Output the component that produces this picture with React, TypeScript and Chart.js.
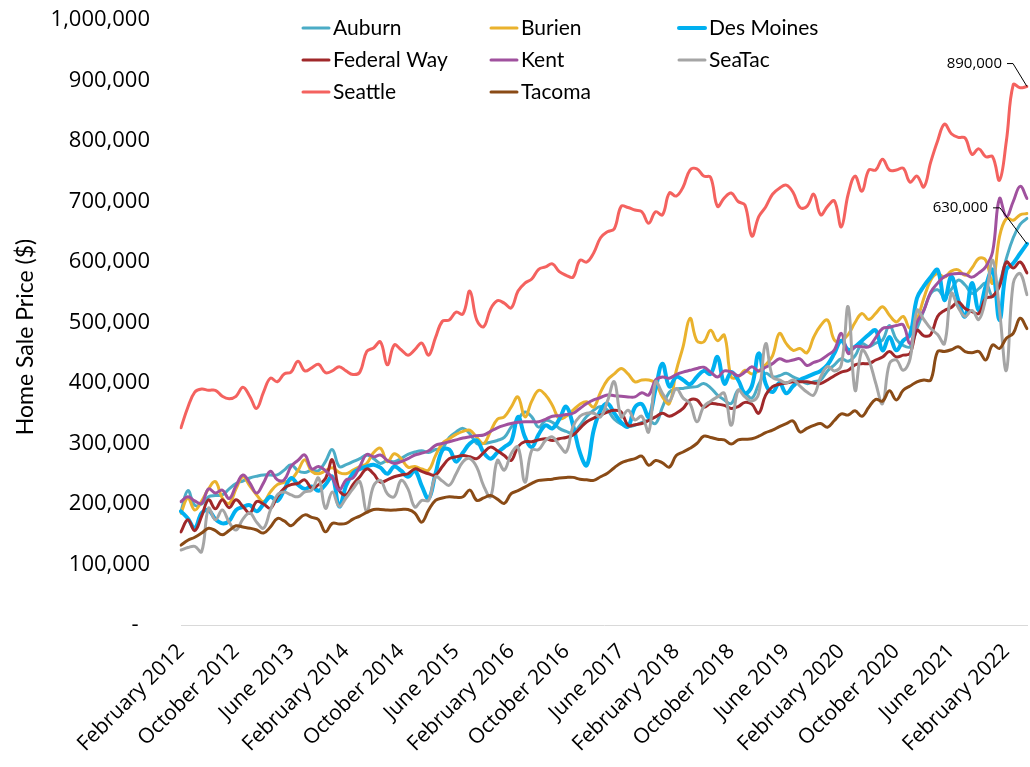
import React, { useEffect, useRef } from "react";
import { Chart, registerables } from "chart.js";

Chart.register(...registerables);

// ---- categories (monthly, February 2012 .. May 2022) ----
const MONTH_NAMES = ["January", "February", "March", "April", "May", "June", "July", "August", "September", "October", "November", "December"];
const START_YEAR = 2012;
const START_MONTH = 1; // February
const MONTH_COUNT = 124;
const CATEGORIES: string[] = Array.from({ length: MONTH_COUNT }, (_, i) => {
  const k = START_MONTH + i;
  return `${MONTH_NAMES[k % 12]} ${START_YEAR + Math.floor(k / 12)}`;
});
const LABEL_EVERY = 8;

// ---- series values, thousands of dollars ----
const AUBURN = [
  188, 222, 198, 200, 212, 214, 215, 225, 234, 238,
  243, 246, 248, 248, 248, 256, 265, 255, 252, 256,
  255, 270, 290, 262, 265, 270, 275, 281, 275, 267,
  272, 270, 275, 282, 286, 288, 285, 290, 292, 310,
  319, 325, 316, 300, 300, 302, 305, 310, 327, 340,
  352, 344, 327, 338, 335, 325, 320, 317, 330, 345,
  355, 361, 355, 340, 332, 328, 330, 335, 338, 333,
  360, 385, 390, 391, 393, 394, 399, 392, 380, 372,
  366, 388, 383, 375, 398, 416, 410, 412, 416, 410,
  405, 399, 402, 405, 420, 430, 440, 436, 445, 465,
  460, 466, 471, 495, 472, 462, 460, 490, 520, 548,
  554, 543, 555, 570, 562, 548, 556, 565, 543, 565,
  606, 640, 662, 672,
];
const BURIEN = [
  185, 210, 190, 205, 225, 237, 210, 201, 225, 245,
  230, 215, 204, 220, 232, 236, 240, 255, 273, 254,
  250, 255, 260, 252, 250, 256, 262, 267, 285, 292,
  270, 283, 275, 261, 262, 258, 256, 280, 300, 308,
  315, 320, 322, 310, 300, 320, 340, 344, 360, 377,
  344, 370, 388, 380, 363, 341, 345, 355, 365, 369,
  360, 385, 405, 415, 424, 415, 402, 405, 405, 400,
  377, 366, 420, 460, 507, 470, 468, 487, 470, 479,
  410, 410, 421, 415, 420, 430, 445, 482, 465, 454,
  457, 450, 476, 495, 504, 471, 470, 480, 500, 515,
  505, 515, 526, 512, 501, 510, 490, 505, 540, 570,
  581, 575, 585, 587, 578, 590, 606, 603, 565, 642,
  672, 669, 678, 680,
];
const DES_MOINES = [
  188, 176, 160, 185, 190, 175, 168, 172, 190, 195,
  198, 188, 200, 212, 205, 223, 243, 232, 225, 229,
  222, 232, 245, 196, 230, 251, 258, 262, 265, 260,
  250, 262, 255, 245, 255, 230, 209, 250, 289, 290,
  270, 285, 300, 305, 285, 275, 285, 294, 303, 344,
  311, 294, 315, 330, 325, 340, 361, 330, 285, 264,
  322, 355, 366, 350, 335, 328, 360, 365, 344, 390,
  432, 394, 410, 405, 398, 410, 420, 415, 443, 399,
  418, 405, 383, 395, 449, 399, 385, 400, 383, 395,
  405, 410, 415, 420, 430, 449, 470, 455, 460, 470,
  480, 487, 454, 476, 454, 470, 480, 540, 560, 575,
  587, 537, 576, 537, 510, 565, 520, 560, 587, 504,
  587, 598, 614, 630,
];
const FEDERAL_WAY = [
  154, 174, 156, 180, 207, 192, 207, 194, 207, 196,
  185, 204, 200, 193, 212, 226, 232, 234, 240, 226,
  232, 242, 273, 223, 215, 232, 245, 258, 250, 236,
  240, 245, 248, 250, 258, 254, 250, 248, 262, 275,
  278, 280, 278, 275, 285, 294, 288, 280, 272, 295,
  303, 303, 306, 308, 305, 308, 310, 314, 325, 336,
  342, 347, 352, 355, 352, 330, 331, 333, 338, 344,
  350, 345, 350, 358, 372, 372, 360, 366, 365, 363,
  358, 361, 368, 365, 350, 380, 394, 398, 400, 402,
  402, 402, 400, 399, 405, 412, 418, 421, 430, 432,
  432, 438, 443, 452, 443, 446, 449, 487, 478, 480,
  510, 520, 525, 534, 523, 518, 515, 540, 543, 560,
  600, 590, 600, 582,
];
const KENT = [
  204, 212, 205, 201, 225, 218, 223, 209, 230, 248,
  235, 218, 235, 254, 240, 240, 262, 272, 281, 258,
  262, 255, 243, 223, 240, 243, 262, 282, 278, 281,
  272, 267, 270, 275, 281, 284, 288, 297, 300, 303,
  306, 309, 311, 313, 314, 320, 326, 330, 333, 335,
  336, 336, 336, 340, 345, 346, 348, 350, 358, 366,
  372, 376, 380, 379, 378, 377, 377, 384, 380, 405,
  410, 408, 414, 418, 421, 424, 426, 418, 410, 420,
  418, 412, 418, 427, 420, 426, 432, 440, 436, 438,
  440, 429, 434, 438, 446, 455, 482, 449, 460, 460,
  460, 475, 490, 492, 495, 496, 465, 500, 520, 550,
  565, 576, 580, 581, 580, 575, 582, 592, 617, 705,
  675, 700, 725, 705,
];
const SEATAC = [
  124, 128, 130, 121, 193, 174, 190, 170, 157, 175,
  185, 170, 160, 190, 215, 220, 215, 212, 220, 223,
  243, 193, 220, 196, 210, 225, 237, 187, 230, 239,
  217, 212, 239, 225, 195, 206, 206, 245, 238, 231,
  250, 270, 275, 261, 230, 212, 272, 256, 283, 294,
  236, 289, 290, 305, 311, 297, 286, 328, 345, 350,
  350, 344, 370, 402, 344, 355, 339, 345, 319, 402,
  383, 370, 391, 375, 366, 336, 361, 370, 377, 383,
  330, 388, 377, 370, 383, 465, 410, 405, 400, 405,
  395, 385, 380, 410, 427, 420, 430, 526, 388, 454,
  438, 400, 366, 432, 438, 421, 440, 520, 505, 490,
  480, 465, 548, 525, 510, 520, 505, 540, 603, 520,
  421, 565, 581, 546,
];
const SEATTLE = [
  326, 360, 385, 390, 388, 388, 378, 374, 378, 393,
  378, 358, 385, 408, 402, 415, 418, 436, 420, 425,
  431, 417, 420, 427, 420, 414, 418, 452, 458, 468,
  430, 463, 455, 446, 455, 466, 446, 475, 502, 504,
  517, 514, 552, 504, 493, 522, 536, 532, 524, 552,
  565, 572, 588, 592, 597, 584, 578, 575, 603, 600,
  615, 640, 650, 655, 692, 690, 686, 683, 664, 683,
  678, 714, 709, 724, 752, 754, 742, 740, 692, 706,
  714, 700, 694, 643, 675, 691, 712, 722, 727, 715,
  690, 692, 712, 678, 692, 701, 658, 712, 742, 717,
  752, 752, 770, 752, 752, 755, 732, 742, 724, 765,
  800, 828, 812, 806, 805, 778, 787, 774, 774, 735,
  800, 893, 888, 890,
];
const TACOMA = [
  132, 140, 145, 152, 160, 156, 149, 156, 164, 162,
  160, 157, 152, 162, 176, 172, 164, 174, 182, 178,
  174, 154, 168, 167, 168, 175, 180, 186, 191, 191,
  190, 190, 191, 191, 185, 170, 190, 206, 210, 212,
  211, 212, 223, 206, 210, 214, 208, 201, 217, 222,
  228, 234, 239, 240, 241, 243, 244, 244, 241, 240,
  239, 245, 251, 260, 268, 272, 275, 279, 264, 272,
  268, 261, 280, 286, 292, 300, 312, 310, 307, 306,
  299, 306, 307, 308, 312, 318, 322, 328, 333, 337,
  319, 325, 330, 333, 327, 338, 349, 347, 354, 345,
  360, 373, 370, 387, 372, 388, 395, 402, 405, 405,
  452, 452, 455, 460, 452, 450, 452, 438, 463, 457,
  474, 482, 507, 490,
];

const SERIES_NAMES = ["Auburn", "Burien", "Des Moines", "Federal Way", "Kent", "SeaTac", "Seattle", "Tacoma"];
const SERIES_VALUES = [AUBURN, BURIEN, DES_MOINES, FEDERAL_WAY, KENT, SEATAC, SEATTLE, TACOMA];
const SERIES_COLORS = ["#4BACC6", "#EAB22D", "#00B0F0", "#A0282A", "#A0519E", "#A5A5A5", "#F4625F", "#8A4B16"];
const SERIES_WIDTHS = [3, 3, 4, 3, 3, 3, 3, 3];

const Y_MIN = 0;
const Y_MAX = 1000000;
const Y_STEP = 100000;
const Y_TITLE = "Home Sale Price ($)";

// annotated series
const ANNOTATED = ["Seattle", "Des Moines"];

const fmt = (v: number) => Math.round(v).toLocaleString("en-US");

const TICK_FONT = '"Open Sans", sans-serif';
const LABEL_FONT = 'Lato, "Noto Sans", sans-serif';

const overlayPlugin = {
  id: "overlay",
  afterDatasetsDraw(chart: any) {
    const ctx = chart.ctx;
    ctx.save();
    const offs: Record<string, { dx: number; dy: number; hx: number }> = {
      Seattle: { dx: -20, dy: -23, hx: 6 },
      "Des Moines": { dx: -34, dy: -36, hx: 7 },
    };
    ANNOTATED.forEach((name) => {
      const di = SERIES_NAMES.indexOf(name);
      const meta = chart.getDatasetMeta(di);
      const pt = meta.data[meta.data.length - 1];
      if (!pt) return;
      const o = offs[name];
      const vals = SERIES_VALUES[di];
      ctx.strokeStyle = "#000";
      ctx.lineWidth = 1;
      ctx.beginPath();
      ctx.moveTo(pt.x + o.dx, pt.y + o.dy);
      ctx.lineTo(pt.x + o.dx + o.hx, pt.y + o.dy);
      ctx.lineTo(pt.x, pt.y);
      ctx.stroke();
      ctx.fillStyle = "#000";
      ctx.font = `15px ${TICK_FONT}`;
      ctx.textAlign = "right";
      ctx.textBaseline = "middle";
      ctx.fillText(fmt(vals[vals.length - 1] * 1000), pt.x + o.dx - 5, pt.y + o.dy);
    });
    ctx.restore();
  },
  afterDraw(chart: any) {
    const ctx = chart.ctx;
    ctx.save();
    ctx.fillStyle = "#000";
    ctx.font = `23px ${LABEL_FONT}`;
    ctx.translate(26, 337);
    ctx.rotate(-Math.PI / 2);
    ctx.textAlign = "center";
    ctx.textBaseline = "middle";
    ctx.fillText(Y_TITLE, 0, 0);
    ctx.restore();

    ctx.save();
    const colX = [302, 490, 678];
    const rowY = [28, 60, 92];
    SERIES_NAMES.forEach((name, k) => {
      const x = colX[k % 3];
      const y = rowY[Math.floor(k / 3)];
      ctx.strokeStyle = SERIES_COLORS[k];
      ctx.lineWidth = SERIES_WIDTHS[k];
      ctx.lineCap = "round";
      ctx.beginPath();
      ctx.moveTo(x + 1, y);
      ctx.lineTo(x + 27, y);
      ctx.stroke();
      ctx.fillStyle = "#000";
      ctx.font = `21px ${LABEL_FONT}`;
      ctx.textAlign = "left";
      ctx.textBaseline = "middle";
      ctx.fillText(name, x + 31, y);
    });
    ctx.restore();
  },
};

export default function App() {
  const ref = useRef<HTMLCanvasElement | null>(null);

  useEffect(() => {
    if (!ref.current) return;
    const n = SERIES_NAMES.length;
    const chart = new Chart(ref.current, {
      type: "line",
      data: {
        labels: CATEGORIES,
        datasets: SERIES_NAMES.map((name, i) => ({
          label: name,
          data: SERIES_VALUES[i].map((v) => v * 1000),
          borderColor: SERIES_COLORS[i],
          backgroundColor: SERIES_COLORS[i],
          borderWidth: SERIES_WIDTHS[i],
          pointRadius: 0,
          tension: 0.4,
          fill: false,
          order: n - i,
          borderCapStyle: "round" as const,
          borderJoinStyle: "round" as const,
        })),
      },
      options: {
        responsive: false,
        animation: false,
        events: [],
        layout: { padding: { top: 20, right: 3, left: 0, bottom: 0 } },
        plugins: {
          legend: { display: false },
          tooltip: { enabled: false },
          title: { display: false },
        },
        scales: {
          x: {
            type: "category",
            offset: false,
            grid: { display: false, drawTicks: false },
            border: { display: true, color: "#d9d9d9", width: 1 },
            ticks: {
              autoSkip: false,
              maxRotation: 45,
              minRotation: 45,
              padding: 14,
              color: "#000",
              font: { family: TICK_FONT, size: 21 },
              callback: (_v: any, i: number) => (i % LABEL_EVERY === 0 ? CATEGORIES[i] : ""),
            },
            afterFit: (s: any) => {
              s.height = 142;
              s.paddingLeft = 0;
              s.paddingRight = 0;
            },
          },
          y: {
            min: Y_MIN,
            max: Y_MAX,
            grid: { display: false, drawTicks: false },
            border: { display: false },
            ticks: {
              stepSize: Y_STEP,
              padding: 31,
              color: "#000",
              font: { family: TICK_FONT, size: 22 },
              callback: (v: any) => (Number(v) === 0 ? "-  " : fmt(Number(v))),
            },
            afterFit: (s: any) => {
              s.width = 181;
              s.paddingTop = 0;
              s.paddingBottom = 0;
            },
          },
        },
      },
      plugins: [overlayPlugin],
    });
    return () => chart.destroy();
  }, []);

  return (
    <canvas
      ref={ref}
      width={1030}
      height={767}
      style={{ position: "absolute", left: 0, top: 0, width: 1030, height: 767 }}
    />
  );
}
